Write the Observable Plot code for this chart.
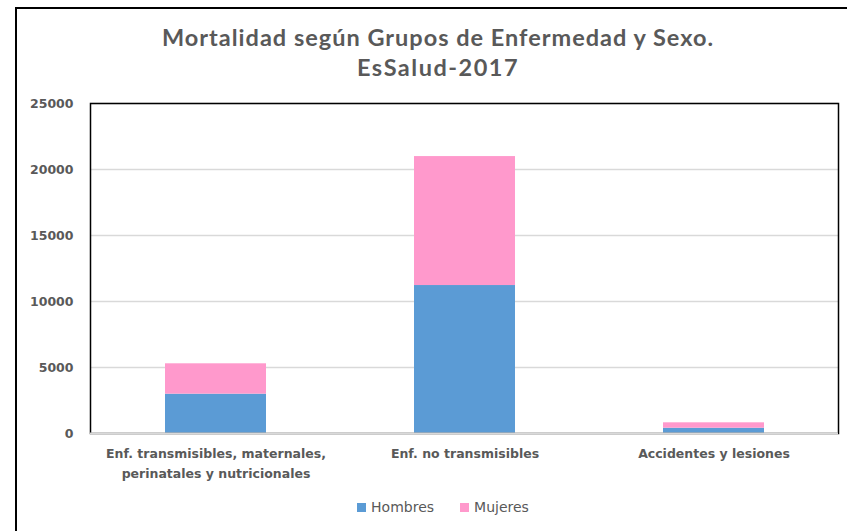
<!DOCTYPE html>
<html>
<head>
<meta charset="utf-8">
<script src="https://cdn.jsdelivr.net/npm/d3@7"></script>
<script src="https://cdn.jsdelivr.net/npm/@observablehq/plot@0.6"></script>
<style>
  html, body { margin: 0; padding: 0; background: #fff; overflow: hidden; }
  #wrap { position: relative; width: 847px; height: 531px; overflow: hidden; }
  #frame { position: absolute; left: 15px; top: 7px; width: 900px; height: 600px;
           border-top: 2px solid #000; border-left: 2px solid #000; box-sizing: border-box; }
  #title { position: absolute; left: 0; top: 22px; width: 876px; text-align: center;
           font-family: Lato, sans-serif; font-weight: bold; font-size: 23.5px; line-height: 30px;
           letter-spacing: 1px; color: #595959; }
  #title .l2 { display: block; letter-spacing: 1.5px; }
  #chart { position: absolute; left: 0; top: 90px; }
  #legend { position: absolute; left: 0; top: 499px; width: 886px; display: flex; justify-content: center;
            font-family: "DejaVu Sans", sans-serif; font-size: 14px; color: #595959; }
  .item { display: flex; align-items: center; margin: 0 13px; }
  .sw { width: 9px; height: 9px; margin-right: 5px; }
</style>
</head>
<body>
<div id="wrap">
  <div id="frame"></div>
  <div id="title"><span>Mortalidad según Grupos de Enfermedad y Sexo.</span><span class="l2">EsSalud-2017</span></div>
  <div id="chart"></div>
  <div id="legend"></div>
</div>
<script>
const categories = ["Enf. transmisibles, maternales,\nperinatales y nutricionales", "Enf. no transmisibles", "Accidentes y lesiones"];
const series = ["Hombres", "Mujeres"];
const hombres = [2980, 11210, 400];
const mujeres = [2300, 9770, 410];
const colors = ["#5B9BD5", "#FF99CC"];
const yTicks = [0, 5000, 10000, 15000, 20000, 25000];

const data = [];
categories.forEach((c, i) => {
  data.push({cat: c, serie: series[0], value: hombres[i]});
  data.push({cat: c, serie: series[1], value: mujeres[i]});
});

const chart = Plot.plot({
  width: 847,
  height: 400,
  marginLeft: 90,
  marginRight: 9,
  marginTop: 13,
  marginBottom: 57,
  style: {fontFamily: "'DejaVu Sans', sans-serif", fontSize: "12.5px", fontWeight: "bold", color: "#595959", background: "transparent"},
  x: {domain: categories, paddingInner: 0.595, paddingOuter: 0.2975, label: null},
  y: {domain: [0, 25000], label: null},
  color: {domain: series, range: colors},
  marks: [
    Plot.gridY(yTicks.filter(d => d > 0), {stroke: "#d9d9d9", strokeOpacity: 1, strokeWidth: 1.5}),
    Plot.barY(data, {x: "cat", y: "value", fill: "serie"}),
    Plot.frame({stroke: "#000", strokeWidth: 1.5}),
    Plot.ruleY([0], {stroke: "#d9d9d9", strokeWidth: 2}),
    Plot.axisY({ticks: yTicks, tickSize: 0, tickPadding: 17, tickFormat: d => String(d), fill: "#595959", label: null}),
    Plot.axisX({tickSize: 0, tickPadding: 10, lineHeight: 1.6, fill: "#595959", label: null})
  ]
});
document.getElementById("chart").appendChild(chart);

const legend = document.getElementById("legend");
series.forEach((s, i) => {
  const it = document.createElement("div");
  it.className = "item";
  const sw = document.createElement("div");
  sw.className = "sw";
  sw.style.background = colors[i];
  const t = document.createElement("span");
  t.textContent = s;
  it.appendChild(sw); it.appendChild(t);
  legend.appendChild(it);
});
</script>
</body>
</html>
